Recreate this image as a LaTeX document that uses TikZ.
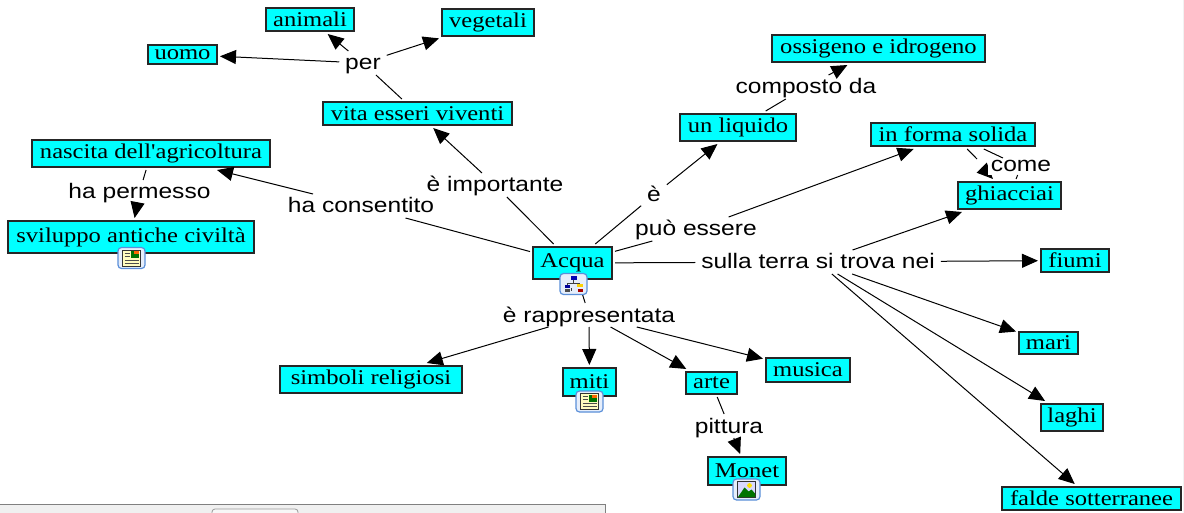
\documentclass[tikz,border=0pt]{standalone}
\usepackage{fontspec}
\setmainfont[FakeStretch=1.17,Ligatures=TeXOff]{Liberation Serif}
\newfontfamily\labelfont[FakeStretch=1.17]{Liberation Sans}
\usetikzlibrary{arrows.meta}
\definecolor{conceptcyan}{HTML}{00FFFF}
\definecolor{iconblue}{HTML}{5B8FD9}
\definecolor{iconfill}{HTML}{E6EEFB}
\tikzset{
  conceptbox/.style={draw=black!85,line width=1.1pt,fill=conceptcyan,inner sep=0pt,outer sep=3pt,
    font=\fontsize{21}{24}\selectfont,text=black},
  linkword/.style={fill=white,inner xsep=6pt,inner ysep=2pt,outer sep=0pt,text height=17pt,text depth=3pt,
    font=\labelfont\fontsize{21}{24}\selectfont,text=black},
  linkplain/.style={line width=1pt,black},
  linkarrow/.style={line width=1pt,black,-{Triangle[length=16pt,width=14pt]}},
  iconframe/.style={draw=iconblue,line width=1.2pt,fill=iconfill,rounded corners=3.5pt},
  docicon/.pic={
    \draw[iconframe] (-13.5,-10.5) rectangle (13.5,10.5);
    \draw[black!80,fill=yellow!25!white,line width=.7pt] (-9,-8) rectangle (9,8);
    \fill[green!45!black] (-1,-7) rectangle (7,0);
    \fill[orange!80!red] (2,-7) rectangle (7,-3.5);
    \draw[black!70,line width=.8pt] (-7,-5) -- (-2,-5) (-7,-2) -- (-2,-2) (-7,2) -- (7,2) (-7,5) -- (7,5);
  },
  photoicon/.pic={
    \draw[iconframe] (-13.5,-10.5) rectangle (13.5,10.5);
    \draw[black!80,fill=blue!15!white,line width=.7pt] (-9,-8) rectangle (9,8);
    \fill[green!45!black] (-8.5,7.5) -- (-2,-2) -- (2,2) -- (5,0) -- (8.5,4) -- (8.5,7.5) -- cycle;
    \fill[yellow!85!orange] (3,-4) circle (2.4);
  },
  mapicon/.pic={
    \draw[iconframe] (-13.5,-10.5) rectangle (13.5,10.5);
    \draw[black!75,line width=.6pt] (0,-4) -- (0,-1) (-6,4) -- (-6,-1) -- (6,-1) -- (6,3) (-2,7) -- (-2,4);
    \fill[blue!70!black] (-3,-8) rectangle (3,-4);
    \fill[blue!60!black] (-9,1) rectangle (-4,4);
    \fill[yellow!70!orange] (3,0) rectangle (9,3);
    \fill[black!70] (-9,5) rectangle (-4,8);
    \fill[red!65!black] (4,5) rectangle (9,8);
  }
}
\newcommand{\conceptat}[6]{%
  \pgfmathsetmacro\cbw{#4-#2}\pgfmathsetmacro\cbh{#5-#3}%
  \pgfmathsetmacro\cbx{(#4+#2)/2}\pgfmathsetmacro\cby{(#5+#3)/2}%
  \node[conceptbox,minimum width=\cbw pt,minimum height=\cbh pt] (#1) at (\cbx,\cby) {#6};}
\begin{document}
\begin{tikzpicture}[x=1pt,y=-1pt]
\useasboundingbox (0,0) rectangle (1184,513);
\fill[white] (0,0) rectangle (1184,513);
\fill[black!5] (1183,0) rectangle (1184,513);
% window fragment
\draw[fill=black!6,draw=black!50,line width=.8pt] (0,504.5) -- (605,504.5) -- (605,513) -- (0,513);
\draw[fill=black!3,draw=black!40,line width=.8pt,rounded corners=3pt] (212,513) -- (212,509) -- (298,509) -- (298,513);
% concepts
\conceptat{uomo}{148}{45}{217}{64}{uomo}
\conceptat{animali}{266}{8}{354}{31}{animali}
\conceptat{vegetali}{442}{9}{534}{36}{vegetali}
\conceptat{vita}{323}{102}{512}{125}{vita esseri viventi}
\conceptat{nascita}{32}{140}{270}{167}{nascita dell'agricoltura}
\conceptat{sviluppo}{8}{221}{254}{253}{sviluppo antiche civiltà}
\conceptat{acqua}{533}{247}{612}{279}{Acqua}
\conceptat{liquido}{680}{114}{796}{141}{un liquido}
\conceptat{ossigeno}{772}{35}{985}{62}{ossigeno e idrogeno}
\conceptat{solida}{871}{123}{1035}{146}{in forma solida}
\conceptat{ghiacciai}{958}{182}{1061}{209}{ghiacciai}
\conceptat{fiumi}{1041}{249}{1109}{272}{fiumi}
\conceptat{mari}{1019}{332}{1078}{354}{mari}
\conceptat{laghi}{1041}{404}{1103}{431}{laghi}
\conceptat{falde}{1002}{487}{1181}{510}{falde sotterranee}
\conceptat{musica}{766}{358}{850}{382}{musica}
\conceptat{simboli}{280}{366}{462}{393}{simboli religiosi}
\conceptat{miti}{563}{368}{616}{396}{miti}
\conceptat{arte}{686}{372}{737}{394}{arte}
\conceptat{monet}{708}{457}{786}{485}{Monet}
% broken arrow behind the word "come"
\coordinate (solidstop) at (977,159);
\coordinate (solidrestart) at (984,170);
\coordinate (soliddot) at (980,173);
\draw[linkplain] (solida) -- (solidstop);
\draw[linkarrow] (solidrestart) -- (ghiacciai);
\fill[black] (soliddot) circle (.8);
% linking words
\node[linkword] (per) at (363,63) {per};
\node[linkword] (permesso) at (139.5,192) {ha permesso};
\node[linkword] (consentito) at (361,206) {ha consentito};
\node[linkword] (importante) at (495,185) {è importante};
\node[linkword] (e) at (654,195) {è};
\node[linkword] (composto) at (806,87) {composto da};
\node[linkword] (puo) at (696,229) {può essere};
\node[linkword,inner xsep=3pt,text height=12pt,text depth=1pt] (come) at (1021,166.5) {come};
\node[linkword] (terra) at (818,262) {sulla terra si trova nei};
\node[linkword] (rappr) at (589,315) {è rappresentata};
\node[linkword] (pittura) at (729,426) {pittura};
% connectors
\draw[linkplain] (vita) -- (per);
\draw[linkarrow] (per) -- (uomo);
\draw[linkarrow] (per) -- (animali);
\draw[linkarrow] (per) -- (vegetali);
\draw[linkplain] (acqua) -- (importante);
\draw[linkarrow] (importante) -- (vita);
\draw[linkplain] (acqua) -- (consentito);
\draw[linkarrow] (consentito) -- (nascita);
\draw[linkplain] (nascita) -- (permesso);
\draw[linkarrow] (permesso) -- (sviluppo);
\draw[linkplain] (acqua) -- (e);
\draw[linkarrow] (e) -- (liquido);
\draw[linkplain] (liquido) -- (composto);
\draw[linkarrow] (composto) -- (ossigeno);
\draw[linkplain] (acqua) -- (puo);
\draw[linkarrow] (puo) -- (solida);
\draw[linkplain] (solida) -- (come);
\draw[linkplain] (come) -- (ghiacciai);
\draw[linkplain] (acqua) -- (terra);
\draw[linkarrow] (terra) -- (ghiacciai);
\draw[linkarrow] (terra) -- (fiumi);
\draw[linkarrow] (terra) -- (mari);
\draw[linkarrow] (terra) -- (laghi);
\draw[linkarrow] (terra) -- (falde);
\draw[linkplain] (acqua) -- (rappr);
\draw[linkarrow] (rappr) -- (simboli);
\draw[linkarrow] (rappr) -- (miti);
\draw[linkarrow] (rappr) -- (arte);
\draw[linkarrow] (rappr) -- (musica);
\draw[linkplain] (arte) -- (pittura);
\draw[linkarrow] (pittura) -- (monet);
% resource icons
\pic at (131.5,258) {docicon};
\pic at (589.5,401.5) {docicon};
\pic at (746.5,489.5) {photoicon};
\pic at (573.5,284) {mapicon};
\end{tikzpicture}
\end{document}
